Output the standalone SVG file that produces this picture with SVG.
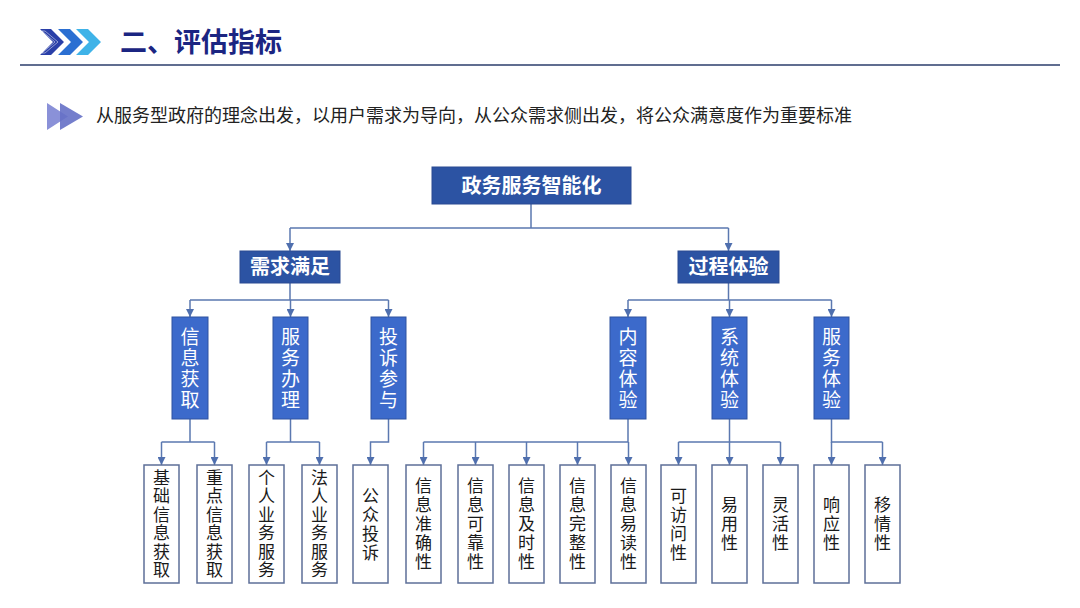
<svg xmlns="http://www.w3.org/2000/svg" width="1080" height="608" viewBox="0 0 1080 608">
<defs>
<marker id="arr" markerUnits="userSpaceOnUse" markerWidth="8" markerHeight="8" refX="8" refY="4" orient="auto"><path d="M0,0 L8,4 L0,8 z" fill="#4f6fae"/></marker>
<style>
.cn{fill:none;stroke:#5b78b0;stroke-width:1.5}
.ar{fill:none;stroke:#5b78b0;stroke-width:1.5;marker-end:url(#arr)}
.b1{fill:#2c53a3;stroke:#2a4b92;stroke-width:1}
.b3{fill:#3c6acb;stroke:#2f53a0;stroke-width:1}
.b4{fill:#ffffff;stroke:#5d6f98;stroke-width:1.5}
.t1{font-family:"Noto Sans CJK SC","Noto Sans",sans-serif;font-weight:bold;font-size:20px;fill:#ffffff;text-anchor:middle}
.t3{font-family:"Noto Sans CJK SC","Noto Sans",sans-serif;font-size:19px;fill:#ffffff;text-anchor:middle;writing-mode:vertical-rl;letter-spacing:2px}
.t4{font-family:"Noto Sans CJK SC","Noto Sans",sans-serif;font-size:17px;fill:#1a1a1a;text-anchor:middle;writing-mode:vertical-rl;letter-spacing:2px}
.t6{letter-spacing:1.5px}
</style>
</defs>
<rect width="1080" height="608" fill="#ffffff"/>
<g id="header">
<polygon points="40,29 51,29 64,42 51,55 40,55 53,42" fill="#2a3fa8"/>
<polygon points="42,31 45,31 58,42 45,53 42,53 55,42" fill="none" stroke="#ffffff" stroke-width="0.8" opacity="0.6"/>
<polygon points="58,29 70,29 83,42 70,55 58,55 71,42" fill="#2b6fd2"/>
<polygon points="76,29 88,29 101,42 88,55 76,55 89,42" fill="#3fb3e8"/>
<text x="120" y="52" font-family="'Noto Sans CJK SC','Noto Sans',sans-serif" font-weight="bold" font-size="27" fill="#1b2582">二、评估指标</text>
<line x1="20" y1="65" x2="1060" y2="65" stroke="#2b3d6b" stroke-width="1.6"/>
</g>
<g id="subtitle">
<polygon points="47,103 47,130 68,116.5" fill="#8a91d8"/>
<polygon points="60,103 60,130 83,116.5" fill="#6570c6" opacity="0.9"/>
<text x="96" y="122" font-family="'Noto Sans CJK SC','Noto Sans',sans-serif" font-size="18" fill="#222222">从服务型政府的理念出发，以用户需求为导向，从公众需求侧出发，将公众满意度作为重要标准</text>
</g>
<g id="connectors">
<path class="cn" d="M531,204 V228 M290,228 H728.5"/>
<path class="ar" d="M290,228 V251"/>
<path class="ar" d="M728.5,228 V251"/>
<path class="cn" d="M290,283 V300 M190,300 H388.5"/>
<path class="ar" d="M190,300 V317"/>
<path class="ar" d="M290.5,300 V317"/>
<path class="ar" d="M388.5,300 V317"/>
<path class="cn" d="M728.5,283 V300 M628,300 H831.5"/>
<path class="ar" d="M628,300 V317"/>
<path class="ar" d="M729.5,300 V317"/>
<path class="ar" d="M831.5,300 V317"/>
<path class="cn" d="M190,419 V442 M161.5,442 H214.5"/>
<path class="ar" d="M161.5,442 V465"/>
<path class="ar" d="M214.5,442 V465"/>
<path class="cn" d="M290.5,419 V442 M266.5,442 H319.5"/>
<path class="ar" d="M266.5,442 V465"/>
<path class="ar" d="M319.5,442 V465"/>
<path class="ar" d="M388.5,419 V442 H370.5 V465"/>
<path class="cn" d="M628,419 V442 M423.5,442 H628.5"/>
<path class="ar" d="M423.5,442 V465"/>
<path class="ar" d="M475.5,442 V465"/>
<path class="ar" d="M526.5,442 V465"/>
<path class="ar" d="M577.5,442 V465"/>
<path class="ar" d="M628.5,442 V465"/>
<path class="cn" d="M729.5,419 V442 M678.5,442 H780.5"/>
<path class="ar" d="M678.5,442 V465"/>
<path class="ar" d="M729.5,442 V465"/>
<path class="ar" d="M780.5,442 V465"/>
<path class="cn" d="M831.5,419 V442 H882.5"/>
<path class="ar" d="M831.5,442 V465"/>
<path class="ar" d="M882.5,442 V465"/>
</g>
<g id="n-root"><rect class="b1" x="432" y="167" width="199" height="37"/><text class="t1" x="531.5" y="192.5">政务服务智能化</text></g>
<g id="n-xqmz"><rect class="b1" x="240" y="251" width="100" height="32"/><text class="t1" x="290" y="274">需求满足</text></g>
<g id="n-gcty"><rect class="b1" x="678" y="251" width="101" height="32"/><text class="t1" x="728.5" y="274">过程体验</text></g>
<g id="n-xxhq"><rect class="b3" x="172" y="317" width="36" height="102"/><text class="t3" x="190" y="369">信息获取</text></g>
<g id="n-fwbl"><rect class="b3" x="273" y="317" width="35" height="102"/><text class="t3" x="290.5" y="369">服务办理</text></g>
<g id="n-tscy"><rect class="b3" x="371" y="317" width="35" height="102"/><text class="t3" x="388.5" y="369">投诉参与</text></g>
<g id="n-nrty"><rect class="b3" x="610" y="317" width="36" height="102"/><text class="t3" x="628" y="369">内容体验</text></g>
<g id="n-xtty"><rect class="b3" x="712" y="317" width="35" height="102"/><text class="t3" x="729.5" y="369">系统体验</text></g>
<g id="n-fwty"><rect class="b3" x="814" y="317" width="35" height="102"/><text class="t3" x="831.5" y="369">服务体验</text></g>
<g id="n-jcxxhq"><rect class="b4" x="144" y="465" width="35" height="118"/><text class="t4 t6" x="161.5" y="524.5">基础信息获取</text></g>
<g id="n-zdxxhq"><rect class="b4" x="197" y="465" width="35" height="118"/><text class="t4 t6" x="214.5" y="524.5">重点信息获取</text></g>
<g id="n-grywfw"><rect class="b4" x="249" y="465" width="35" height="118"/><text class="t4 t6" x="266.5" y="524.5">个人业务服务</text></g>
<g id="n-frywfw"><rect class="b4" x="302" y="465" width="35" height="118"/><text class="t4 t6" x="319.5" y="524.5">法人业务服务</text></g>
<g id="n-gzts"><rect class="b4" x="353" y="465" width="35" height="118"/><text class="t4" x="370.5" y="525">公众投诉</text></g>
<g id="n-xxzqx"><rect class="b4" x="406" y="465" width="35" height="118"/><text class="t4" x="423.5" y="525">信息准确性</text></g>
<g id="n-xxkkx"><rect class="b4" x="458" y="465" width="35" height="118"/><text class="t4" x="475.5" y="525">信息可靠性</text></g>
<g id="n-xxjsx"><rect class="b4" x="509" y="465" width="35" height="118"/><text class="t4" x="526.5" y="525">信息及时性</text></g>
<g id="n-xxwzx"><rect class="b4" x="560" y="465" width="35" height="118"/><text class="t4" x="577.5" y="525">信息完整性</text></g>
<g id="n-xxydx"><rect class="b4" x="611" y="465" width="35" height="118"/><text class="t4" x="628.5" y="525">信息易读性</text></g>
<g id="n-kfwx"><rect class="b4" x="661" y="465" width="35" height="118"/><text class="t4" x="678.5" y="525">可访问性</text></g>
<g id="n-yyx"><rect class="b4" x="712" y="465" width="35" height="118"/><text class="t4" x="729.5" y="525">易用性</text></g>
<g id="n-lhx"><rect class="b4" x="763" y="465" width="35" height="118"/><text class="t4" x="780.5" y="525">灵活性</text></g>
<g id="n-xyx"><rect class="b4" x="814" y="465" width="35" height="118"/><text class="t4" x="831.5" y="525">响应性</text></g>
<g id="n-yqx"><rect class="b4" x="865" y="465" width="35" height="118"/><text class="t4" x="882.5" y="525">移情性</text></g>
</svg>
